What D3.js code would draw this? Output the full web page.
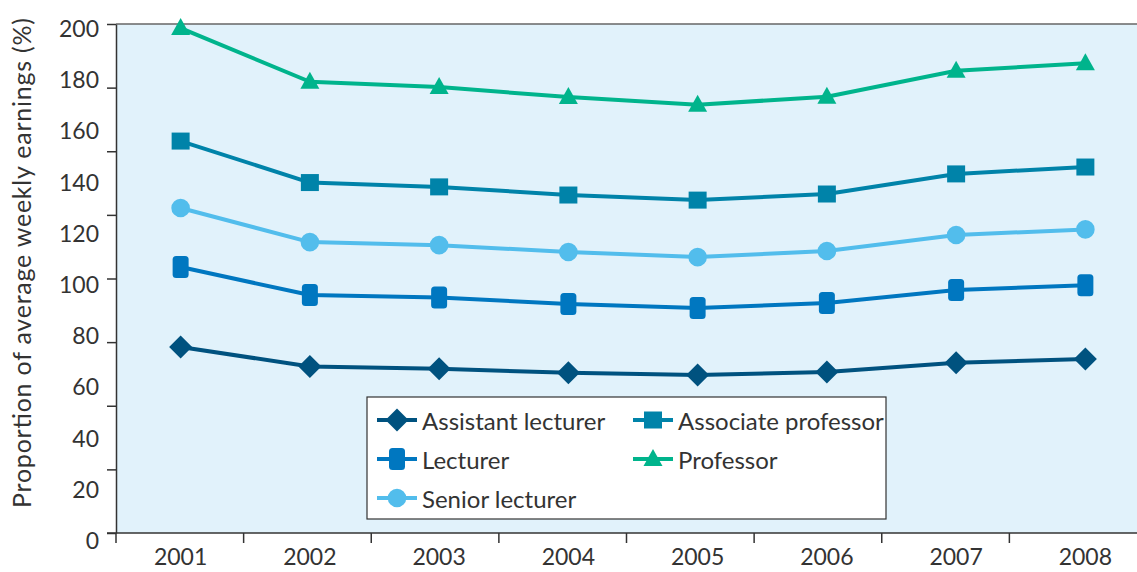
<!DOCTYPE html>
<html>
<head>
<meta charset="utf-8">
<script src="https://cdn.jsdelivr.net/npm/d3@7"></script>
<style>
  html, body { margin: 0; padding: 0; background: #ffffff; }
  svg { display: block; }
  text { font-family: Lato, "Open Sans", sans-serif; fill: #333333; }
</style>
</head>
<body>
<svg id="chart" width="1137" height="572"></svg>
<script>
// ---- data ----
const years = ["2001", "2002", "2003", "2004", "2005", "2006", "2007", "2008"];
const assistantLecturer  = [73.1, 65.4, 64.5, 63.0, 62.1, 63.3, 66.9, 68.4];
const lecturer           = [104.5, 93.5, 92.5, 90.0, 88.4, 90.4, 95.5, 97.3];
const seniorLecturer     = [127.7, 114.3, 113.1, 110.4, 108.4, 110.8, 117.1, 119.3];
const associateProfessor = [154.0, 137.7, 136.0, 132.8, 130.8, 133.2, 141.1, 143.8];
const professor          = [198.4, 177.3, 175.2, 171.3, 168.3, 171.4, 181.6, 184.6];
const yTickLabels = [0, 20, 40, 60, 80, 100, 120, 140, 160, 180, 200];
const yTickMarks = [0, 25, 50, 75, 100, 125, 150, 175, 200];
const yTitle = "Proportion of average weekly earnings (%)";

const seriesList = [
  { name: "Assistant lecturer",  values: assistantLecturer,  color: "#00527f", shape: "diamond" },
  { name: "Lecturer",            values: lecturer,           color: "#0077c0", shape: "roundrect" },
  { name: "Senior lecturer",     values: seniorLecturer,     color: "#52bdec", shape: "circle" },
  { name: "Associate professor", values: associateProfessor, color: "#0083a9", shape: "square" },
  { name: "Professor",           values: professor,          color: "#00b48c", shape: "triangle" }
];
const legendOrder = ["Assistant lecturer", "Associate professor", "Lecturer", "Professor", "Senior lecturer"];

// ---- layout ----
const plotL = 116, plotR = 1137, plotT = 24, plotB = 533;

const svg = d3.select("#chart");

const x = d3.scalePoint().domain(years).range([plotL, 1150]).padding(0.5);
const xTicks = d3.scaleBand().domain(years).range([plotL, plotR]);
const y = d3.scaleLinear().domain([0, 200]).range([plotB, plotT]);
const yLab = d3.scaleLinear().domain([0, 200]).range([540, 28]);

// plot background
svg.append("rect")
  .attr("x", plotL).attr("y", plotT)
  .attr("width", plotR - plotL).attr("height", plotB - plotT)
  .attr("fill", "#e1f2fb");

// top border
svg.append("line")
  .attr("x1", plotL).attr("x2", plotR)
  .attr("y1", y(200)).attr("y2", y(200))
  .attr("stroke", "#666666").attr("stroke-width", 1.5);

// y axis line + tick marks
const yAxis = svg.append("g")
  .attr("transform", `translate(${plotL},0)`)
  .call(d3.axisLeft(y).tickValues(yTickMarks).tickFormat("").tickSize(9).tickSizeOuter(0));
yAxis.select(".domain").attr("stroke", "#333333").attr("stroke-width", 1.5);
yAxis.selectAll(".tick line").attr("stroke", "#333333").attr("stroke-width", 1.5);

// y labels (offset from marks, as in reference)
svg.append("g").selectAll("text")
  .data(yTickLabels).join("text")
  .attr("x", 99)
  .attr("y", d => yLab(d))
  .attr("text-anchor", "end")
  .attr("dominant-baseline", "central")
  .attr("font-size", 23)
  .text(d => d);

// x axis line
svg.append("line")
  .attr("x1", 107).attr("x2", plotR)
  .attr("y1", plotB).attr("y2", plotB)
  .attr("stroke", "#333333").attr("stroke-width", 1.5);
// x tick marks
svg.append("g").selectAll("line")
  .data(years).join("line")
  .attr("x1", d => xTicks(d)).attr("x2", d => xTicks(d))
  .attr("y1", plotB).attr("y2", plotB + 10)
  .attr("stroke", "#333333").attr("stroke-width", 1.5);
// x labels
svg.append("g").selectAll("text")
  .data(years).join("text")
  .attr("x", d => x(d))
  .attr("y", 565)
  .attr("text-anchor", "middle")
  .attr("font-size", 23)
  .text(d => d);

// y title
svg.append("text")
  .attr("transform", `translate(31,${(18 + 508) / 2}) rotate(-90)`)
  .attr("text-anchor", "middle")
  .attr("font-size", 25)
  .attr("textLength", 490)
  .attr("lengthAdjust", "spacing")
  .text(yTitle);

// marker shapes
function markerPath(shape) {
  const p = d3.path();
  if (shape === "diamond") {
    const r = 11.5;
    p.moveTo(0, -r); p.lineTo(r, 0); p.lineTo(0, r); p.lineTo(-r, 0); p.closePath();
  } else if (shape === "square") {
    p.rect(-9, -8.5, 18, 17);
  } else if (shape === "triangle") {
    p.moveTo(0, -10); p.lineTo(9.5, 7); p.lineTo(-9.5, 7); p.closePath();
  } else if (shape === "circle") {
    p.arc(0, 0, 9.3, 0, 2 * Math.PI);
  }
  return p.toString();
}
function drawMarker(g, shape, color) {
  if (shape === "roundrect") {
    g.append("rect").attr("x", -8).attr("y", -11).attr("width", 16).attr("height", 22)
      .attr("rx", 3.5).attr("fill", color);
  } else {
    g.append("path").attr("d", markerPath(shape)).attr("fill", color);
  }
}

// lines
const line = d3.line().x((d, i) => x(years[i])).y(d => y(d));
const plot = svg.append("g");
seriesList.forEach(s => {
  plot.append("path")
    .datum(s.values)
    .attr("d", line)
    .attr("fill", "none")
    .attr("stroke", s.color)
    .attr("stroke-width", 4)
    .attr("stroke-linejoin", "round");
});
seriesList.forEach(s => {
  s.values.forEach((v, i) => {
    const g = plot.append("g").attr("transform", `translate(${x(years[i])},${y(v)})`);
    drawMarker(g, s.shape, s.color);
  });
});

// legend
const legend = svg.append("g");
legend.append("rect")
  .attr("x", 367).attr("y", 397).attr("width", 519).attr("height", 122)
  .attr("fill", "#ffffff").attr("stroke", "#333333").attr("stroke-width", 1.2);
legendOrder.forEach((name, k) => {
  const s = seriesList.find(d => d.name === name);
  const col = k % 2, row = Math.floor(k / 2);
  const lx = col === 0 ? 377 : 633;
  const ly = 420 + row * 39;
  const g = legend.append("g").attr("transform", `translate(${lx},${ly})`);
  g.append("line").attr("x1", 0).attr("x2", 40).attr("y1", 0).attr("y2", 0)
    .attr("stroke", s.color).attr("stroke-width", 4);
  const mg = g.append("g").attr("transform", "translate(20,0)");
  drawMarker(mg, s.shape, s.color);
  g.append("text").attr("x", 45).attr("y", 0)
    .attr("dominant-baseline", "central")
    .attr("font-size", 24)
    .text(name);
});
</script>
</body>
</html>
